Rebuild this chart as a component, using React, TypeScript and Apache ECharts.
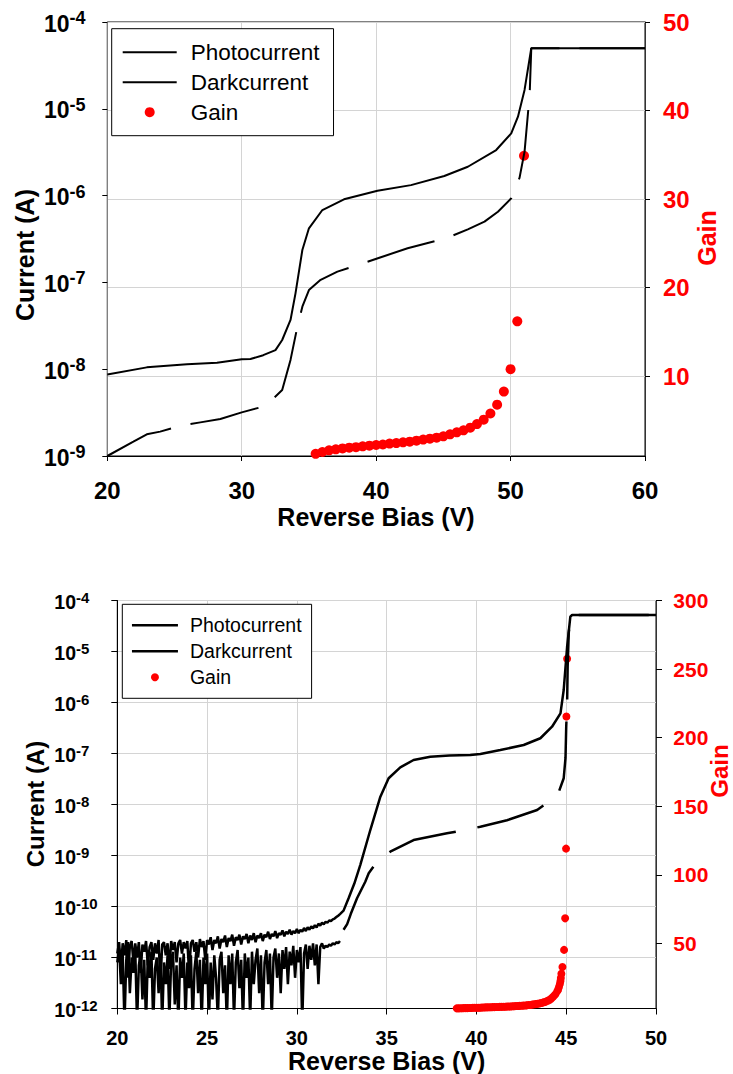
import { useEffect, useRef } from 'react';
import * as echarts from 'echarts';

const FONT = '"Liberation Sans", Arial, Helvetica, sans-serif';

// ---------- Chart 1 (top) ----------
const photo1V = [20, 22.94, 25.93, 28.16, 30, 30.65, 31.6, 32.51, 33.01, 33.63, 34.0, 34.51, 35.0, 36.0, 37.61, 40.1, 42.59, 45.07, 46.82, 48.93, 50.05, 50.55, 51.04, 51.54, 60];
const photo1I = [8.7e-9, 1.05e-8, 1.14e-8, 1.19e-8, 1.3e-8, 1.31e-8, 1.45e-8, 1.66e-8, 2.17e-8, 3.69e-8, 7.48e-8, 2.36e-7, 4.2e-7, 6.82e-7, 9.06e-7, 1.14e-6, 1.32e-6, 1.68e-6, 2.15e-6, 3.35e-6, 5.22e-6, 8.11e-6, 1.65e-5, 4.98e-5, 4.98e-5];

const dark1V = [20, 21.94, 22.94, 23.93, 25.43, 26.92, 28.41, 30.0, 31.77, 33.01, 33.63, 34.13, 34.51, 35.0, 35.87, 37.12, 38.86, 40.35, 42.34, 45.2, 46.82, 48.06, 49.06, 50.05, 50.67, 51.04, 51.42, 51.54, 60];
const dark1I = [1.0e-9, 1.46e-9, 1.78e-9, 1.91e-9, 2.23e-9, 2.44e-9, 2.67e-9, 3.18e-9, 3.77e-9, 5.75e-9, 1.28e-8, 3.04e-8, 5.25e-8, 8.17e-8, 1.07e-7, 1.33e-7, 1.63e-7, 1.95e-7, 2.47e-7, 3.22e-7, 4.09e-7, 5.01e-7, 6.52e-7, 9.31e-7, 1.61e-6, 3.21e-6, 1.47e-5, 4.98e-5, 4.98e-5];

const gain1V = [35.5, 36, 36.5, 37, 37.5, 38, 38.5, 39, 39.5, 40, 40.5, 41, 41.5, 42, 42.5, 43, 43.5, 44, 44.5, 45, 45.5, 46, 46.5, 47, 47.5, 48, 48.5, 49, 49.5, 50, 50.5, 51];
const gain1 = [1.24, 1.45, 1.64, 1.75, 1.86, 1.94, 2.0, 2.09, 2.17, 2.24, 2.3, 2.4, 2.46, 2.54, 2.62, 2.73, 2.85, 2.96, 3.07, 3.22, 3.45, 3.67, 3.9, 4.2, 4.6, 5.1, 5.8, 6.8, 8.27, 10.8, 16.2, 34.9];

const gain1Ticks = [10, 20, 30, 40, 50];

// ---------- Chart 2 (bottom) ----------
// noisy low-bias region, [bias V, current A]
const photo2Noise = [
  [20.0, 1.2e-11], [20.1, 2.0e-11], [20.2, 6e-12], [20.3, 1.9e-11], [20.4, 1.1e-11], [20.5, 2.2e-11], [20.6, 4e-12], [20.7, 1.7e-11], [20.8, 2.1e-11], [20.9, 8e-12],
  [21.0, 1.9e-11], [21.1, 1.0e-11], [21.2, 2.0e-11], [21.3, 5e-12], [21.4, 1.8e-11], [21.5, 1.3e-11], [21.6, 2.1e-11], [21.7, 7e-12], [21.8, 1.6e-11], [21.9, 2.0e-11],
  [22.0, 9e-12], [22.1, 1.9e-11], [22.2, 1.2e-11], [22.3, 2.2e-11], [22.4, 3e-12], [22.5, 1.8e-11], [22.6, 2.0e-11], [22.7, 1.1e-11], [22.8, 1.9e-11], [22.9, 6e-12],
  [23.0, 2.1e-11], [23.1, 1.4e-11], [23.2, 2.0e-11], [23.3, 8e-12], [23.4, 1.9e-11], [23.5, 2.2e-11], [23.6, 1.2e-11], [23.7, 2.0e-11], [23.8, 1.5e-11], [23.9, 2.1e-11],
  [24.0, 5e-12], [24.1, 1.9e-11], [24.2, 2.2e-11], [24.3, 1.3e-11], [24.4, 2.0e-11], [24.5, 1.0e-11], [24.6, 2.3e-11], [24.7, 1.6e-11], [24.8, 2.1e-11], [24.9, 9e-12],
  [25.0, 2.2e-11], [25.1, 1.8e-11], [25.2, 2.5e-11], [25.3, 1.4e-11], [25.4, 2.2e-11], [25.5, 1.9e-11], [25.6, 2.6e-11], [25.7, 1.5e-11], [25.8, 2.3e-11], [25.9, 2.0e-11],
  [26.0, 2.7e-11], [26.1, 1.6e-11], [26.2, 2.4e-11], [26.3, 2.1e-11], [26.4, 2.8e-11], [26.5, 1.7e-11], [26.6, 2.5e-11], [26.7, 2.2e-11], [26.8, 2.8e-11], [26.9, 1.8e-11],
  [27.0, 2.6e-11], [27.1, 2.3e-11], [27.2, 2.9e-11], [27.3, 1.9e-11], [27.4, 2.7e-11], [27.5, 2.2e-11], [27.6, 3.0e-11], [27.7, 2.0e-11], [27.8, 2.7e-11], [27.9, 2.4e-11],
  [28.0, 3.0e-11], [28.1, 2.1e-11], [28.2, 2.8e-11], [28.3, 2.5e-11], [28.4, 3.2e-11], [28.5, 2.3e-11], [28.6, 2.9e-11], [28.7, 2.6e-11], [28.8, 3.3e-11], [28.9, 2.4e-11],
  [29.0, 3.0e-11], [29.1, 2.8e-11], [29.2, 3.4e-11], [29.3, 2.6e-11], [29.4, 3.2e-11], [29.5, 2.9e-11], [29.6, 3.5e-11], [29.7, 2.8e-11], [29.8, 3.3e-11], [29.9, 3.0e-11],
  [30.0, 3.6e-11], [30.1, 3.0e-11], [30.2, 3.5e-11], [30.3, 3.2e-11], [30.4, 3.8e-11], [30.5, 3.3e-11], [30.6, 3.9e-11], [30.7, 3.5e-11], [30.8, 4.1e-11], [30.9, 3.7e-11],
  [31.0, 4.3e-11], [31.1, 3.9e-11], [31.2, 4.6e-11], [31.3, 4.2e-11], [31.4, 4.8e-11], [31.5, 4.5e-11], [31.6, 5.0e-11], [31.7, 4.8e-11], [31.8, 5.3e-11], [31.9, 5.2e-11],
  [32.0, 5.6e-11], [32.1, 5.8e-11], [32.2, 6.2e-11], [32.3, 6.6e-11], [32.4, 7.1e-11],
];
const photo2Tail = [
  [32.6, 8.3e-11], [32.88, 1.45e-10], [33.2, 2.82e-10], [33.53, 6.5e-10], [34.09, 3.16e-9], [34.65, 1.42e-8], [35.11, 3.27e-8], [35.76, 5.36e-8], [36.5, 7.46e-8], [37.43, 8.65e-8],
  [38.5, 9.1e-8], [39.66, 9.35e-8], [40.22, 9.77e-8], [41.33, 1.17e-7], [42.63, 1.47e-7], [43.56, 1.99e-7], [44.21, 3.35e-7], [44.68, 6.14e-7], [44.86, 1.76e-6], [45.05, 1.24e-5],
  [45.23, 4.81e-5], [45.33, 5.2e-5], [50, 5.2e-5],
];

const dark2Noise = [
  [20.0, 8e-12], [20.1, 1.5e-11], [20.2, 3e-12], [20.3, 1.2e-11], [20.4, 5e-13], [20.5, 9e-12], [20.6, 2.0e-11], [20.7, 2e-12], [20.8, 1.0e-11], [20.9, 5e-12],
  [21.0, 1.4e-11], [21.1, 5e-13], [21.2, 7e-12], [21.3, 1.2e-11], [21.4, 1.5e-12], [21.5, 9e-12], [21.6, 5e-13], [21.7, 1.1e-11], [21.8, 4e-12], [21.9, 1.3e-11],
  [22.0, 5e-13], [22.1, 6e-12], [22.2, 1.0e-11], [22.3, 2e-12], [22.4, 1.2e-11], [22.5, 5e-13], [22.6, 8e-12], [22.7, 3e-12], [22.8, 1.1e-11], [22.9, 6e-13],
  [23.0, 9e-12], [23.1, 1.3e-11], [23.2, 1.2e-12], [23.3, 7e-12], [23.4, 5e-13], [23.5, 1.0e-11], [23.6, 4e-12], [23.7, 1.2e-11], [23.8, 6e-13], [23.9, 8e-12],
  [24.0, 2.5e-12], [24.1, 1.1e-11], [24.2, 5e-13], [24.3, 6e-12], [24.4, 1.3e-11], [24.5, 2e-12], [24.6, 9e-12], [24.7, 5e-13], [24.8, 1.0e-11], [24.9, 3e-12],
  [25.0, 1.2e-11], [25.1, 5e-13], [25.2, 8e-12], [25.3, 1.5e-12], [25.4, 1.1e-11], [25.5, 4e-12], [25.6, 6e-13], [25.7, 9e-12], [25.8, 1.3e-11], [25.9, 2e-12],
  [26.0, 7e-12], [26.1, 5e-13], [26.2, 1.1e-11], [26.3, 3e-12], [26.4, 1.2e-11], [26.5, 6e-13], [26.6, 8e-12], [26.7, 1.4e-11], [26.8, 2.5e-12], [26.9, 9e-12],
  [27.0, 5e-13], [27.1, 1.2e-11], [27.2, 4e-12], [27.3, 1.0e-11], [27.4, 6e-13], [27.5, 1.3e-11], [27.6, 3e-12], [27.7, 9e-12], [27.8, 1.5e-11], [27.9, 2e-12],
  [28.0, 1.1e-11], [28.1, 5e-13], [28.2, 8e-12], [28.3, 1.4e-11], [28.4, 3e-12], [28.5, 1.2e-11], [28.6, 6e-13], [28.7, 1.0e-11], [28.8, 1.5e-11], [28.9, 4e-12],
  [29.0, 1.2e-11], [29.1, 2e-12], [29.2, 1.4e-11], [29.3, 6e-12], [29.4, 1.6e-11], [29.5, 3e-12], [29.6, 1.3e-11], [29.7, 7e-12], [29.8, 1.7e-11], [29.9, 4e-12],
  [30.0, 1.4e-11], [30.1, 8e-12], [30.2, 1.6e-11], [30.3, 5e-13], [30.4, 1.2e-11], [30.5, 1.8e-11], [30.6, 6e-12], [30.7, 1.7e-11], [30.8, 9e-12], [30.9, 1.9e-11],
  [31.0, 7e-12], [31.1, 1.8e-11], [31.2, 3e-12], [31.3, 1.6e-11], [31.4, 1.9e-11], [31.5, 1.5e-11], [31.6, 1.7e-11], [31.7, 1.6e-11], [31.8, 1.8e-11], [31.9, 1.7e-11],
  [32.0, 1.9e-11], [32.1, 1.8e-11], [32.2, 2.0e-11], [32.3, 1.9e-11], [32.4, 2.1e-11],
];
const dark2Tail = [
  [32.6, 3.5e-11], [32.8, 4.5e-11], [33.0, 7.1e-11], [33.35, 1.45e-10], [33.81, 3.06e-10], [34.0, 4.5e-10], [34.3, 6.3e-10], [34.55, 8.2e-10], [35.2, 1.19e-9], [36.5, 2.01e-9],
  [38.36, 2.72e-9], [39.56, 3.27e-9], [40.22, 3.67e-9], [41.7, 4.9e-9], [43.38, 7.8e-9], [44.0, 1.12e-8], [44.58, 1.74e-8], [44.86, 3.27e-8], [44.96, 8.17e-8], [45.0, 3.35e-7],
  [45.05, 9.64e-7], [45.08, 5.04e-6], [45.14, 2.28e-5], [45.23, 4.81e-5], [45.33, 5.2e-5], [50, 5.2e-5],
];

const gain2V = [38.9, 39.0, 39.1, 39.2, 39.3, 39.4, 39.5, 39.6, 39.7, 39.8, 39.9, 40.0, 40.1, 40.2, 40.3, 40.4, 40.5, 40.6, 40.7, 40.8, 40.9, 41.0, 41.1, 41.2, 41.3, 41.4, 41.5, 41.6, 41.7, 41.8, 41.9, 42.0, 42.1, 42.2, 42.3, 42.4, 42.5, 42.6, 42.7, 42.8, 42.9, 43.0, 43.1, 43.2, 43.3, 43.4, 43.5, 43.6, 43.7, 43.8, 43.9, 44.0, 44.1, 44.2, 44.3, 44.4, 44.5, 44.55, 44.6, 44.65, 44.68, 44.7, 44.73, 44.79, 44.88, 44.94, 44.99, 45.01, 45.05];
const gain2 = [2.8, 2.8, 2.9, 2.9, 3.0, 3.0, 3.0, 3.1, 3.1, 3.2, 3.2, 3.2, 3.3, 3.3, 3.4, 3.4, 3.5, 3.5, 3.6, 3.6, 3.7, 3.7, 3.8, 3.8, 3.9, 3.9, 4.0, 4.0, 4.1, 4.2, 4.2, 4.3, 4.4, 4.5, 4.5, 4.6, 4.7, 4.8, 4.9, 5.0, 5.2, 5.3, 5.5, 5.7, 5.9, 6.1, 6.4, 6.7, 7.0, 7.4, 7.9, 8.5, 9.3, 10.3, 11.6, 13.1, 15.2, 16.5, 18.5, 20.8, 22.8, 25, 28, 33, 45.4, 68.4, 119.2, 215.5, 257.5];

const gain2Ticks = [50, 100, 150, 200, 250, 300];

const zip = (xs: number[], ys: number[]) => xs.map((x, i) => [x, ys[i]]);

const supFormatter = (v: number) => {
  const e = Math.round(Math.log10(v));
  return `{b|10}{s|${e}}`;
};

const richFor = (base: number, sup: number, lh: number) => ({
  b: { fontSize: base, fontWeight: 'bold', fontFamily: FONT, color: '#000', lineHeight: lh, verticalAlign: 'bottom' },
  s: { fontSize: sup, fontWeight: 'bold', fontFamily: FONT, color: '#000', lineHeight: sup, verticalAlign: 'top' },
});

const GRID_GRAY = '#d4d4d4';
const RED = '#ff0000';

const legendData = [
  { name: 'Photocurrent', itemStyle: { opacity: 0, color: 'rgba(0,0,0,0)', borderWidth: 0 } },
  { name: 'Darkcurrent', itemStyle: { opacity: 0, color: 'rgba(0,0,0,0)', borderWidth: 0 } },
  { name: 'Gain', itemStyle: { opacity: 1, color: RED } },
];

function buildOption() {
  const lineBase = {
    type: 'line',
    symbol: 'none',
    showSymbol: false,
    clip: true,
    silent: true,
    emphasis: { disabled: true },
    itemStyle: { color: '#000' },
  };
  const scatterBase = {
    type: 'scatter',
    name: 'Gain',
    symbol: 'circle',
    silent: true,
    emphasis: { disabled: true },
    itemStyle: { color: RED, opacity: 1 },
  };
  return {
    animation: false,
    backgroundColor: '#fff',
    grid: [
      { left: 107.3, top: 22, width: 537.7, height: 434, show: true, borderColor: '#000', borderWidth: 1, backgroundColor: 'transparent', outerBoundsMode: 'none' },
      { left: 117.3, top: 600.5, width: 538.7, height: 408, show: true, borderColor: '#000', borderWidth: 1, backgroundColor: 'transparent', outerBoundsMode: 'none' },
    ],
    xAxis: [
      {
        type: 'value', gridIndex: 0, min: 20, max: 60, interval: 10,
        axisLine: { show: true, onZero: false, lineStyle: { color: '#000', width: 1 } },
        axisTick: { show: true, inside: false, length: 5, lineStyle: { color: '#000' } },
        axisLabel: { show: true, fontSize: 24, fontWeight: 'bold', fontFamily: FONT, color: '#000', margin: 22, showMinLabel: true, showMaxLabel: true },
        splitLine: { show: true, lineStyle: { color: GRID_GRAY, width: 1 } },
      },
      {
        type: 'value', gridIndex: 1, min: 20, max: 50, interval: 5,
        axisLine: { show: true, onZero: false, lineStyle: { color: '#000', width: 1 } },
        axisTick: { show: true, inside: false, length: 6, lineStyle: { color: '#000' } },
        axisLabel: { show: true, fontSize: 20, fontWeight: 'bold', fontFamily: FONT, color: '#000', margin: 19, showMinLabel: true, showMaxLabel: true },
        splitLine: { show: true, lineStyle: { color: GRID_GRAY, width: 1 } },
      },
    ],
    yAxis: [
      {
        type: 'log', logBase: 10, gridIndex: 0, position: 'left', min: 1e-9, max: 1e-4, splitNumber: 5,
        axisLine: { show: true, onZero: false, lineStyle: { color: '#808080', width: 1 } },
        axisTick: { show: true, inside: false, length: 5, lineStyle: { color: '#000' } },
        axisLabel: { show: true, align: 'left', margin: 63.3, formatter: supFormatter, rich: richFor(23, 18, 26), showMinLabel: true, showMaxLabel: true },
        splitLine: { show: false },
      },
      {
        type: 'value', gridIndex: 0, position: 'right', min: 1, max: 50,
        axisLine: { show: true, onZero: false, lineStyle: { color: '#333', width: 1 } },
        axisTick: { show: true, inside: false, length: 5, lineStyle: { color: '#000' }, customValues: gain1Ticks },
        axisLabel: { show: true, align: 'left', margin: 18, fontSize: 24, fontWeight: 'bold', fontFamily: FONT, color: RED, customValues: gain1Ticks },
        splitLine: { show: true, lineStyle: { color: GRID_GRAY, width: 1 } },
      },
      {
        type: 'log', logBase: 10, gridIndex: 1, position: 'left', min: 1e-12, max: 1e-4, splitNumber: 8,
        axisLine: { show: true, onZero: false, lineStyle: { color: '#000', width: 1 } },
        axisTick: { show: true, inside: false, length: 6, lineStyle: { color: '#000' } },
        axisLabel: { show: true, align: 'left', margin: 63, formatter: supFormatter, rich: richFor(19.5, 15, 22), showMinLabel: true, showMaxLabel: true },
        splitLine: { show: true, lineStyle: { color: GRID_GRAY, width: 1 } },
      },
      {
        type: 'value', gridIndex: 1, position: 'right', min: 2.7, max: 300,
        axisLine: { show: true, onZero: false, lineStyle: { color: '#333', width: 1 } },
        axisTick: { show: true, inside: false, length: 6, lineStyle: { color: '#000' }, customValues: gain2Ticks },
        axisLabel: { show: true, align: 'left', margin: 17.3, fontSize: 21, fontWeight: 'bold', fontFamily: FONT, color: RED, customValues: gain2Ticks },
        splitLine: { show: false },
      },
    ],
    legend: [
      {
        left: 111.7, top: 28.7, orient: 'vertical', align: 'left',
        padding: [12, 14, 12, 10], itemGap: 7, itemWidth: 54, itemHeight: 10,
        borderColor: '#000', borderWidth: 1, backgroundColor: '#fff', selectedMode: false,
        lineStyle: { width: 2, type: 'solid', color: '#000' },
        textStyle: { fontSize: 22.5, lineHeight: 21, fontFamily: FONT, color: '#000', padding: [0, 0, 0, 9] },
        data: legendData,
      },
      {
        left: 122.3, top: 604.3, orient: 'vertical', align: 'left',
        padding: [11, 10, 11, 8.4], itemGap: 6, itemWidth: 46, itemHeight: 8,
        borderColor: '#000', borderWidth: 1, backgroundColor: '#fff', selectedMode: false,
        lineStyle: { width: 2.5, type: 'solid', color: '#000' },
        textStyle: { fontSize: 19.5, lineHeight: 18, fontFamily: FONT, color: '#000', padding: [0, 0, 0, 7] },
        data: legendData,
      },
    ],
    graphic: [
      { type: 'text', x: 25, y: 255, rotation: Math.PI / 2, style: { text: 'Current (A)', fontSize: 25, fontWeight: 'bold', fontFamily: FONT, fill: '#000', align: 'center', verticalAlign: 'middle' } },
      { type: 'text', x: 376, y: 517, style: { text: 'Reverse Bias (V)', fontSize: 25, fontWeight: 'bold', fontFamily: FONT, fill: '#000', align: 'center', verticalAlign: 'middle' } },
      { type: 'text', x: 706.7, y: 238, rotation: Math.PI / 2, style: { text: 'Gain', fontSize: 25, fontWeight: 'bold', fontFamily: FONT, fill: RED, align: 'center', verticalAlign: 'middle' } },
      { type: 'text', x: 35, y: 804, rotation: Math.PI / 2, style: { text: 'Current (A)', fontSize: 24, fontWeight: 'bold', fontFamily: FONT, fill: '#000', align: 'center', verticalAlign: 'middle' } },
      { type: 'text', x: 386.7, y: 1060.5, style: { text: 'Reverse Bias (V)', fontSize: 25, fontWeight: 'bold', fontFamily: FONT, fill: '#000', align: 'center', verticalAlign: 'middle' } },
      { type: 'text', x: 719, y: 771, rotation: Math.PI / 2, style: { text: 'Gain', fontSize: 24, fontWeight: 'bold', fontFamily: FONT, fill: RED, align: 'center', verticalAlign: 'middle' } },
    ],
    series: [
      { ...lineBase, name: 'Photocurrent', xAxisIndex: 0, yAxisIndex: 0, lineStyle: { color: '#000', width: 2 }, data: zip(photo1V, photo1I) },
      { ...lineBase, name: 'Darkcurrent', xAxisIndex: 0, yAxisIndex: 0, lineStyle: { color: '#000', width: 2, type: [70, 20] }, data: zip(dark1V, dark1I) },
      { ...scatterBase, xAxisIndex: 0, yAxisIndex: 1, symbolSize: 10, data: zip(gain1V, gain1) },
      { ...lineBase, name: 'Photocurrent', xAxisIndex: 1, yAxisIndex: 2, lineStyle: { color: '#000', width: 2.5 }, data: photo2Noise.concat(photo2Tail) },
      { ...lineBase, name: 'Darkcurrent', xAxisIndex: 1, yAxisIndex: 2, lineStyle: { color: '#000', width: 2.5 }, data: dark2Noise },
      { ...lineBase, name: 'Darkcurrent', xAxisIndex: 1, yAxisIndex: 2, lineStyle: { color: '#000', width: 2.5, type: [70, 22] }, data: dark2Tail },
      { ...scatterBase, xAxisIndex: 1, yAxisIndex: 3, symbolSize: 8, data: zip(gain2V, gain2) },
    ],
  };
}

export default function App() {
  const ref = useRef<HTMLDivElement>(null);
  useEffect(() => {
    if (!ref.current) return;
    const chart = echarts.init(ref.current, null, { renderer: 'svg' });
    chart.setOption(buildOption() as any);
    return () => chart.dispose();
  }, []);
  return (
    <div
      ref={ref}
      style={{ position: 'absolute', left: 0, top: 0, width: 733, height: 1074, background: '#fff' }}
    />
  );
}
